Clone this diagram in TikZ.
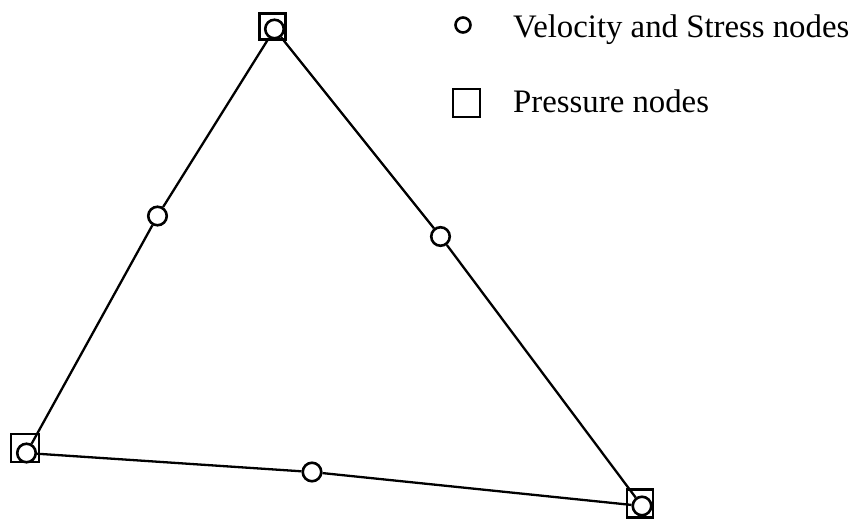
\documentclass[tikz,border=0pt]{standalone}
\usepackage{fontspec}
\setmainfont{Liberation Serif}
\begin{document}
\begin{tikzpicture}[x=1pt,y=-1pt,
  vnode/.style={circle,draw,fill=white,line width=2.6pt,minimum size=18.5pt,inner sep=0pt},
  pnode/.style={rectangle,draw,line width=2.6pt,inner sep=0pt},
  edge/.style={line width=2.3pt},
  legtext/.style={anchor=base west,inner sep=0pt,font=\fontsize{32.8}{38}\selectfont}]
\useasboundingbox (0,0) rectangle (855,520);
% pressure squares at the vertices
\node[pnode,minimum width=26pt,minimum height=26pt] (p1) at (272.5,26.5) {};
\node[pnode,minimum width=28pt,minimum height=28pt] (p2) at (25,448) {};
\node[pnode,minimum width=26pt,minimum height=28pt] (p3) at (640,503.5) {};
% velocity/stress circles
\node[vnode] (v1) at (274.5,29) {};
\node[vnode] (v2) at (26.5,453) {};
\node[vnode] (v3) at (642,506) {};
\node[vnode] (m1) at (157.5,216) {};
\node[vnode] (m2) at (440.5,236.5) {};
\node[vnode] (m3) at (312,472) {};
% edges
\draw[edge] (v1) -- (m1) -- (v2);
\draw[edge] (v1) -- (m2) -- (v3);
\draw[edge] (v2) -- (m3) -- (v3);
% legend
\node[circle,draw,line width=2.6pt,minimum size=15pt,inner sep=0pt] (lc) at (463,25) {};
\node[pnode,minimum width=27pt,minimum height=28pt] (ls) at (466.5,103) {};
\node[legtext] (t1) at (513,37) {Velocity and Stress nodes};
\node[legtext] (t2) at (513,112) {Pressure nodes};
\end{tikzpicture}
\end{document}
